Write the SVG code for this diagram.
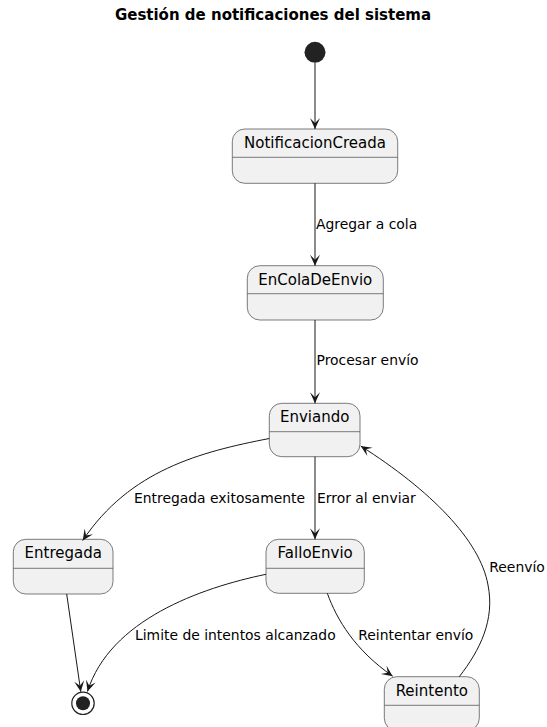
<svg xmlns="http://www.w3.org/2000/svg" width="547" height="727" viewBox="0 0 547 727">
  <style>
    .title { font-family: "DejaVu Sans", sans-serif; font-size: 15px; font-weight: bold; fill: #000; }
    .state rect { fill: #F1F1F1; stroke: #5A5A5A; stroke-width: 0.8; }
    .state line { stroke: #5A5A5A; stroke-width: 0.8; }
    .state text { font-family: "DejaVu Sans", sans-serif; font-size: 15px; fill: #000; text-anchor: middle; }
    .edge { fill: none; stroke: #181818; stroke-width: 1; marker-end: url(#arrow); }
    .lbl { font-family: "DejaVu Sans", sans-serif; font-size: 13.9px; fill: #000; }
  </style>
  <defs>
    <marker id="arrow" viewBox="-12 -6 13 12" refX="0" refY="0" markerWidth="13" markerHeight="12" orient="auto" markerUnits="userSpaceOnUse">
      <path d="M0,0 L-11,-5 L-6,0 L-11,5 Z" fill="#181818"/>
    </marker>
  </defs>
  <rect width="547" height="727" fill="#FFFFFF"/>

  <text class="title" x="273" y="19.5" text-anchor="middle">Gestión de notificaciones del sistema</text>

  <!-- pseudo-states -->
  <g id="start">
    <circle cx="315" cy="52.3" r="10.5" fill="#222222"/>
  </g>
  <g id="end">
    <circle cx="83" cy="703.3" r="11.2" fill="#FFFFFF" stroke="#222222" stroke-width="1.2"/>
    <circle cx="83" cy="703.3" r="7" fill="#222222"/>
  </g>

  <!-- states -->
  <g id="NotificacionCreada" class="state">
    <rect x="232.3" y="129" width="165.4" height="54.3" rx="12.5"/>
    <line x1="232.3" y1="157.3" x2="397.7" y2="157.3"/>
    <text x="315" y="148">NotificacionCreada</text>
  </g>
  <g id="EnColaDeEnvio" class="state">
    <rect x="247.3" y="265.7" width="136" height="54.3" rx="12.5"/>
    <line x1="247.3" y1="293.7" x2="383.3" y2="293.7"/>
    <text x="315.3" y="284.5">EnColaDeEnvio</text>
  </g>
  <g id="Enviando" class="state">
    <rect x="269.3" y="403.3" width="90.7" height="53.4" rx="12.5"/>
    <line x1="269.3" y1="431.7" x2="360" y2="431.7"/>
    <text x="314.7" y="422">Enviando</text>
  </g>
  <g id="Entregada" class="state">
    <rect x="13.3" y="539.3" width="99.7" height="54.7" rx="12.5"/>
    <line x1="13.3" y1="568.3" x2="113" y2="568.3"/>
    <text x="63.2" y="558.2">Entregada</text>
  </g>
  <g id="FalloEnvio" class="state">
    <rect x="266" y="539.3" width="98.3" height="54" rx="12.5"/>
    <line x1="266" y1="568.3" x2="364.3" y2="568.3"/>
    <text x="315.2" y="558.2">FalloEnvio</text>
  </g>
  <g id="Reintento" class="state">
    <rect x="384.3" y="676.7" width="95" height="54" rx="12.5"/>
    <line x1="384.3" y1="705.3" x2="479.3" y2="705.3"/>
    <text x="431.8" y="695.5">Reintento</text>
  </g>

  <!-- transitions -->
  <g id="connectors">
    <path class="edge" d="M315,62.8 L315,129"/>
    <path class="edge" d="M315,183.3 L315,265.7"/>
    <path class="edge" d="M315,320 L315,403.3"/>
    <path class="edge" d="M315,456.7 L315,539.3"/>
    <path class="edge" d="M269.3,438.5 C200,452 130,470 82.7,540.5"/>
    <path class="edge" d="M66.7,594 L80.8,691.8"/>
    <path class="edge" d="M266,574.3 C200,588 110,620 87.5,691.5"/>
    <path class="edge" d="M327.3,593.3 C337,620 355,650 392.7,676.2"/>
    <path class="edge" d="M459.3,676.7 C480,650 495,620 488,585 C480,540 430,490 360.7,446"/>

    <text class="lbl" x="316" y="229.3">Agregar a cola</text>
    <text class="lbl" x="316.5" y="365">Procesar envío</text>
    <text class="lbl" x="134" y="502.7">Entregada exitosamente</text>
    <text class="lbl" x="317" y="502.7">Error al enviar</text>
    <text class="lbl" x="135" y="640">Limite de intentos alcanzado</text>
    <text class="lbl" x="358.3" y="640">Reintentar envío</text>
    <text class="lbl" x="489.3" y="571.7">Reenvío</text>
  </g>
</svg>
